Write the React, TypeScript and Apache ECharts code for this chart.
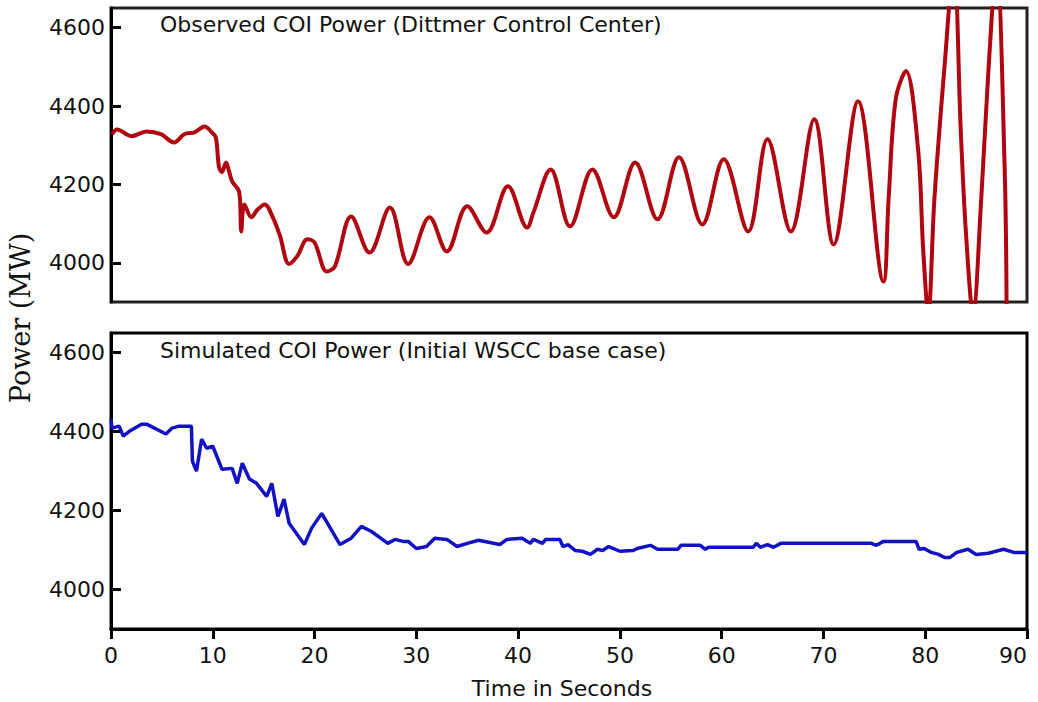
import React, { useEffect, useRef } from "react";
import * as echarts from "echarts";

// Observed COI power (Dittmer Control Center): [time s, MW]
const observedT = [0.1, 0.6, 2.0, 3.5, 4.9, 6.2, 7.2, 8.2, 9.2, 9.9, 10.3, 10.6, 10.9, 11.3, 11.6, 11.9, 12.6, 12.8, 13.1, 13.8, 14.4, 15.1, 15.9, 16.6, 17.5, 18.3, 19.3, 20.0, 21.2, 22.0, 23.6, 25.4, 27.4, 29.2, 31.3, 33.0, 35.0, 36.9, 39.0, 40.9, 41.5, 43.2, 45.1, 47.3, 49.4, 51.5, 53.7, 55.8, 58.1, 60.2, 62.6, 64.5, 66.8, 69.1, 71.0, 73.4, 75.9, 76.4, 77.1, 78.1, 79.3, 79.8, 80.3, 80.9, 81.9, 82.8, 83.5, 84.0, 84.7, 85.5, 86.2, 87.0, 87.8, 88.0];
const observedMW = [4328, 4340, 4323, 4335, 4328, 4307, 4328, 4333, 4348, 4333, 4320, 4246, 4231, 4256, 4233, 4208, 4180, 4080, 4149, 4116, 4136, 4149, 4116, 4069, 3997, 4017, 4060, 4052, 3978, 3991, 4118, 4026, 4141, 3997, 4116, 4029, 4144, 4077, 4195, 4090, 4128, 4238, 4093, 4238, 4116, 4256, 4111, 4269, 4098, 4264, 4080, 4315, 4080, 4366, 4047, 4412, 3952, 4162, 4417, 4489, 4289, 4034, 3870, 4162, 4502, 4760, 4333, 4077, 3870, 4162, 4486, 4760, 4246, 3870];

// Simulated COI power (Initial WSCC base case): [time s, MW]
const simulatedT = [0.0, 0.1, 0.8, 1.2, 1.8, 3.0, 3.5, 5.4, 6.0, 6.7, 7.9, 8.0, 8.4, 8.9, 9.4, 10.0, 10.9, 11.9, 12.4, 12.9, 13.6, 14.3, 15.3, 15.8, 16.4, 17.0, 17.5, 19.0, 19.7, 20.7, 22.5, 23.6, 24.6, 25.6, 27.2, 27.9, 28.7, 29.2, 30.0, 31.0, 31.8, 33.0, 34.0, 35.0, 36.1, 38.2, 38.9, 40.4, 41.2, 41.5, 42.4, 42.7, 44.1, 44.4, 44.9, 45.6, 46.3, 47.1, 47.8, 48.3, 48.9, 50.0, 51.3, 51.7, 53.0, 53.7, 55.7, 56.0, 57.9, 58.4, 58.7, 63.1, 63.4, 63.8, 64.5, 65.1, 65.8, 74.7, 75.2, 75.9, 79.1, 79.4, 79.9, 80.6, 81.3, 81.9, 82.4, 83.1, 84.2, 85.0, 86.2, 87.7, 88.7, 90.0];
const simulatedMW = [4432, 4409, 4414, 4389, 4401, 4419, 4419, 4394, 4409, 4414, 4414, 4325, 4300, 4381, 4358, 4363, 4305, 4307, 4269, 4320, 4280, 4269, 4236, 4269, 4185, 4229, 4168, 4114, 4155, 4193, 4114, 4130, 4160, 4147, 4117, 4127, 4122, 4122, 4104, 4109, 4130, 4127, 4109, 4117, 4125, 4114, 4127, 4130, 4117, 4127, 4117, 4127, 4127, 4109, 4114, 4099, 4097, 4089, 4102, 4099, 4109, 4097, 4099, 4104, 4112, 4102, 4102, 4112, 4112, 4102, 4107, 4107, 4117, 4107, 4114, 4107, 4117, 4117, 4112, 4122, 4122, 4102, 4104, 4094, 4089, 4081, 4081, 4094, 4102, 4089, 4092, 4102, 4094, 4094];

const yTicks = [4000, 4200, 4400, 4600];
const xTicks = [0, 10, 20, 30, 40, 50, 60, 70, 80, 90];

const titleTop = "Observed COI Power (Dittmer Control Center)";
const titleBottom = "Simulated COI Power (Initial WSCC base case)";
const xName = "Time in Seconds";
const yName = "Power (MW)";

const SANS = "DejaVu Sans";
const SERIF = "DejaVu Serif";

export default function App() {
  const ref = useRef<HTMLDivElement>(null);

  useEffect(() => {
    if (!ref.current) return;
    const chart = echarts.init(ref.current, null, { renderer: "svg" });

    const makeY = (gi: number) => ({
      type: "value",
      gridIndex: gi,
      min: 3900,
      max: 4650,
      axisLine: { show: true, lineStyle: { color: "#000", width: 3 } },
      axisTick: { show: true, inside: true, length: 10, customValues: yTicks, lineStyle: { color: "#000", width: 3 } },
      axisLabel: {
        show: true, customValues: yTicks, margin: 6, fontSize: 22, fontFamily: SANS, color: "#111",
        formatter: (v: number) => String(v),
      },
      splitLine: { show: false },
    });

    chart.setOption({
      animation: false,
      backgroundColor: "#fff",
      grid: [
        { left: 111, right: 11, top: 8, height: 294, show: true, borderColor: "#222", borderWidth: 3, backgroundColor: "transparent", outerBoundsMode: "none", containLabel: false },
        { left: 111, right: 11, top: 333, height: 296, show: true, borderColor: "#000", borderWidth: 3, backgroundColor: "transparent", outerBoundsMode: "none", containLabel: false },
      ],
      xAxis: [
        {
          type: "value", gridIndex: 0, min: 0, max: 90, interval: 10,
          axisLine: { show: false }, axisTick: { show: false }, axisLabel: { show: false }, splitLine: { show: false },
        },
        {
          type: "value", gridIndex: 1, min: 0, max: 90, interval: 10,
          axisLine: { show: true, lineStyle: { color: "#000", width: 3 } },
          axisTick: { show: true, inside: false, length: 10, customValues: xTicks, lineStyle: { color: "#000", width: 3 } },
          axisLabel: {
            show: true, customValues: xTicks, margin: 15, fontSize: 22, fontFamily: SANS, color: "#111",
            formatter: (v: number) => String(v), alignMaxLabel: "right",
          },
          splitLine: { show: false },
        },
      ],
      yAxis: [makeY(0), makeY(1)],
      series: [
        {
          type: "line", xAxisIndex: 0, yAxisIndex: 0,
          data: observedT.map((t, i) => [t, observedMW[i]]),
          showSymbol: false, smooth: 0.35, clip: true,
          lineStyle: { color: "#b00610", width: 4 },
        },
        {
          type: "line", xAxisIndex: 1, yAxisIndex: 1,
          data: simulatedT.map((t, i) => [t, simulatedMW[i]]),
          showSymbol: false, smooth: false, clip: true,
          lineStyle: { color: "#1212c4", width: 3.5 },
        },
      ],
      graphic: [
        { type: "text", x: 160, y: 24, style: { text: titleTop, fontSize: 22, fontFamily: SANS, fill: "#111", textAlign: "left", textVerticalAlign: "middle" } },
        { type: "text", x: 160, y: 350, style: { text: titleBottom, fontSize: 22, fontFamily: SANS, fill: "#111", textAlign: "left", textVerticalAlign: "middle" } },
        { type: "text", x: 562, y: 688, style: { text: xName, fontSize: 22, fontFamily: SANS, fill: "#111", textAlign: "center", textVerticalAlign: "middle" } },
        { type: "text", x: 20, y: 318, rotation: Math.PI / 2, style: { text: yName, fontSize: 27, fontFamily: SERIF, fill: "#111", textAlign: "center", textVerticalAlign: "middle" } },
      ],
    });

    return () => chart.dispose();
  }, []);

  return <div ref={ref} style={{ position: "absolute", left: 0, top: 0, width: 1038, height: 702 }} />;
}
